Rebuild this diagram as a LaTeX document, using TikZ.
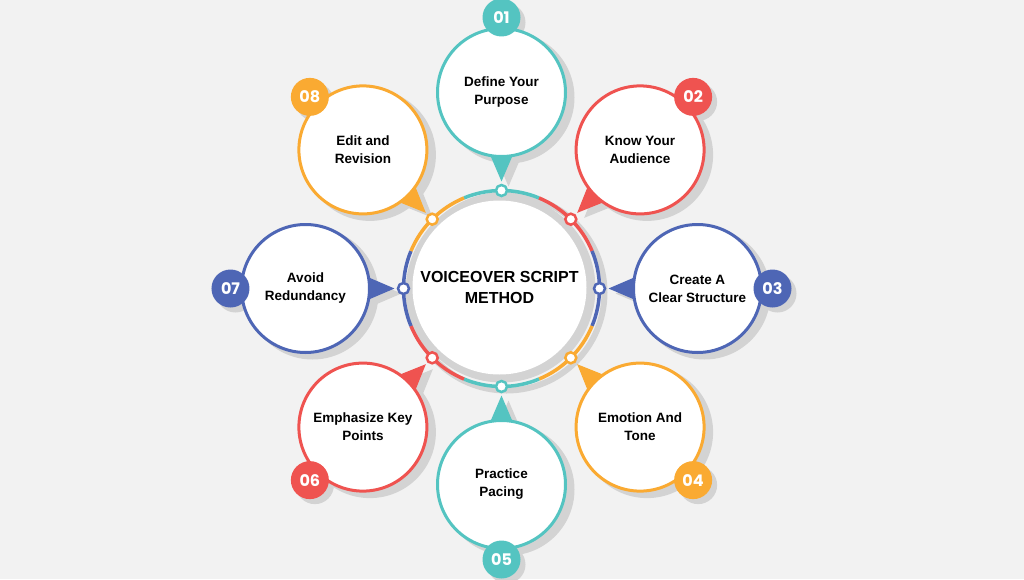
\documentclass[tikz,border=0pt]{standalone}
\usepackage{fontspec}
\setmainfont{Liberation Sans}
\newfontfamily\numfont{Poppins}
\usepackage{tikz}
\usetikzlibrary{calc}

\definecolor{tealc}{HTML}{54C4C1}
\definecolor{redc}{HTML}{EF5350}
\definecolor{bluec}{HTML}{4E66B5}
\definecolor{orangec}{HTML}{FAAA32}
\definecolor{shadowgray}{HTML}{D3D3D3}
\definecolor{bggray}{HTML}{F2F2F2}

\begin{document}
\begin{tikzpicture}[x=1pt, y=1pt,
      stepnode/.style={
        circle, draw=#1, line width=3pt, fill=white,
        minimum size=128pt, inner sep=0pt, align=center, text=black,
        font=\fontsize{13.5}{18}\selectfont\bfseries},
      badge/.style={
        circle, fill=#1, minimum size=38pt, inner sep=0pt, text=white,
        font=\numfont\fontsize{16}{16}\selectfont\bfseries},
      ringdot/.style={
        circle, draw=#1, line width=2.5pt, fill=white,
        minimum size=11pt, inner sep=0pt},
      ringline/.style={line width=3.5pt},
      shadowfill/.style={fill=shadowgray},
      hub/.style={
        circle, fill=white, minimum size=174pt, align=center, text=black,
        font=\fontsize{16}{21}\selectfont\bfseries}
    ]
    % --- Canvas ---
    \fill[bggray] (-501.5,-290.5) rectangle (522.5,288.5);
    \useasboundingbox (-501.5,-290.5) rectangle (522.5,288.5);

    % --- Shadows ---
    \foreach \a in {90,45,0,-45,-90,-135,180,135}{
      \fill[shadowfill] ($(\a:196)+(7,-5)$) circle (66)
                        ($(\a:271)+(5,-5)$) circle (19);
      \fill[shadowfill] ($(\a:107)+(7,-5)$)
        -- ($(\a:196)+(\a+190:64)+(7,-5)$)
        -- ($(\a:196)+(\a+170:64)+(7,-5)$) -- cycle;
    }
    \draw[draw=shadowgray, line width=6pt] (5,-4) circle (98);

    % --- Hub ---
    \fill[shadowgray] (0,0) circle (94);
    \node[hub] (hub) at (-2,1) {VOICEOVER SCRIPT\\METHOD};

    % --- Colored ring ---
    \draw[ringline, tealc]   (112.5:98) arc[start angle=112.5, end angle=67.5,  radius=98];
    \draw[ringline, redc]    (67.5:98)  arc[start angle=67.5,  end angle=22.5,  radius=98];
    \draw[ringline, bluec]   (22.5:98)  arc[start angle=22.5,  end angle=-22.5, radius=98];
    \draw[ringline, orangec] (-22.5:98) arc[start angle=-22.5, end angle=-67.5, radius=98];
    \draw[ringline, tealc]   (-67.5:98) arc[start angle=-67.5, end angle=-112.5,radius=98];
    \draw[ringline, redc]    (-112.5:98) arc[start angle=-112.5,end angle=-157.5,radius=98];
    \draw[ringline, bluec]   (202.5:98) arc[start angle=202.5, end angle=157.5, radius=98];
    \draw[ringline, orangec] (157.5:98) arc[start angle=157.5, end angle=112.5, radius=98];

    % --- Ring dots ---
    \node[ringdot=tealc]   (d1) at (90:98)   {};
    \node[ringdot=redc]    (d2) at (45:98)   {};
    \node[ringdot=bluec]   (d3) at (0:98)    {};
    \node[ringdot=orangec] (d4) at (-45:98)  {};
    \node[ringdot=tealc]   (d5) at (-90:98)  {};
    \node[ringdot=redc]    (d6) at (-135:98) {};
    \node[ringdot=bluec]   (d7) at (180:98)  {};
    \node[ringdot=orangec] (d8) at (135:98)  {};

    % --- Steps ---
    \node[stepnode=tealc]   (s1) at (90:196)   {Define Your\\Purpose};
    \node[stepnode=redc]    (s2) at (45:196)   {Know Your\\Audience};
    \node[stepnode=bluec]   (s3) at (0:196)    {Create A\\Clear Structure};
    \node[stepnode=orangec] (s4) at (-45:196)  {Emotion And\\Tone};
    \node[stepnode=tealc]   (s5) at (-90:196)  {Practice\\Pacing};
    \node[stepnode=redc]    (s6) at (-135:196) {Emphasize Key\\Points};
    \node[stepnode=bluec]   (s7) at (180:196)  {Avoid\\Redundancy};
    \node[stepnode=orangec] (s8) at (135:196)  {Edit and\\Revision};

    % --- Pointers ---
    \fill[tealc]   ($(s1)!64pt!-10:(d1)$) -- ($(d1)!9pt!(s1)$) -- ($(s1)!64pt!10:(d1)$) -- cycle;
    \fill[redc]    ($(s2)!64pt!-10:(d2)$) -- ($(d2)!9pt!(s2)$) -- ($(s2)!64pt!10:(d2)$) -- cycle;
    \fill[bluec]   ($(s3)!64pt!-10:(d3)$) -- ($(d3)!9pt!(s3)$) -- ($(s3)!64pt!10:(d3)$) -- cycle;
    \fill[orangec] ($(s4)!64pt!-10:(d4)$) -- ($(d4)!9pt!(s4)$) -- ($(s4)!64pt!10:(d4)$) -- cycle;
    \fill[tealc]   ($(s5)!64pt!-10:(d5)$) -- ($(d5)!9pt!(s5)$) -- ($(s5)!64pt!10:(d5)$) -- cycle;
    \fill[redc]    ($(s6)!64pt!-10:(d6)$) -- ($(d6)!9pt!(s6)$) -- ($(s6)!64pt!10:(d6)$) -- cycle;
    \fill[bluec]   ($(s7)!64pt!-10:(d7)$) -- ($(d7)!9pt!(s7)$) -- ($(s7)!64pt!10:(d7)$) -- cycle;
    \fill[orangec] ($(s8)!64pt!-10:(d8)$) -- ($(d8)!9pt!(s8)$) -- ($(s8)!64pt!10:(d8)$) -- cycle;

    % --- Number badges ---
    \node[badge=tealc]   (b1) at (90:271)   {01};
    \node[badge=redc]    (b2) at (45:271)   {02};
    \node[badge=bluec]   (b3) at (0:271)    {03};
    \node[badge=orangec] (b4) at (-45:271)  {04};
    \node[badge=tealc]   (b5) at (-90:271)  {05};
    \node[badge=redc]    (b6) at (-135:271) {06};
    \node[badge=bluec]   (b7) at (180:271)  {07};
    \node[badge=orangec] (b8) at (135:271)  {08};
  \end{tikzpicture}
\end{document}
